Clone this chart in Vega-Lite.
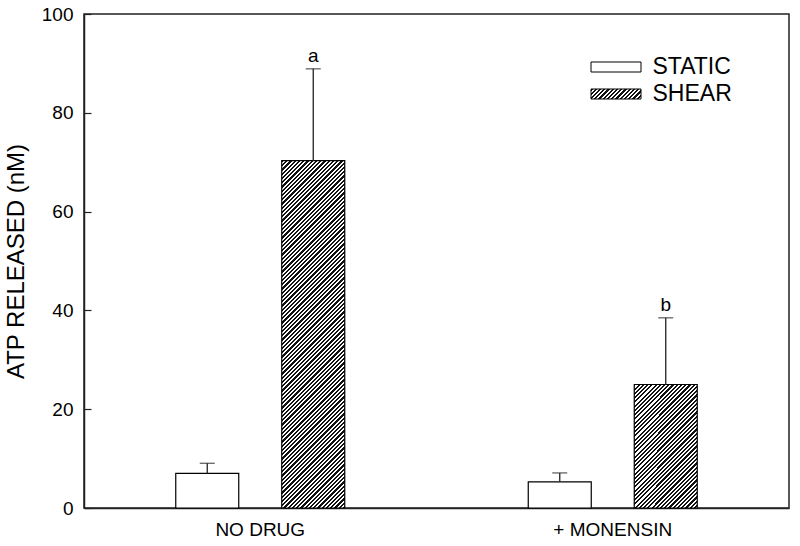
{
"$schema": "https://vega.github.io/schema/vega-lite/v6.json",
"width": 705, "height": 494,
"autosize": {"type": "none"},
"padding": {"left": 84, "top": 14, "right": 11, "bottom": 38},
"background": "white",
"config": {"view": {"stroke": "#222", "strokeWidth": 1.5}, "font": "Liberation Sans"},
"params": [{"name": "hatch", "value": [
{"offset":0,"color":"#111"},{"offset":0.005,"color":"#111"},{"offset":0.005,"color":"#fff"},{"offset":0.01,"color":"#fff"},
{"offset":0.01,"color":"#111"},{"offset":0.015,"color":"#111"},{"offset":0.015,"color":"#fff"},{"offset":0.02,"color":"#fff"},
{"offset":0.02,"color":"#111"},{"offset":0.025,"color":"#111"},{"offset":0.025,"color":"#fff"},{"offset":0.03,"color":"#fff"},
{"offset":0.03,"color":"#111"},{"offset":0.035,"color":"#111"},{"offset":0.035,"color":"#fff"},{"offset":0.04,"color":"#fff"},
{"offset":0.04,"color":"#111"},{"offset":0.045,"color":"#111"},{"offset":0.045,"color":"#fff"},{"offset":0.05,"color":"#fff"},
{"offset":0.05,"color":"#111"},{"offset":0.055,"color":"#111"},{"offset":0.055,"color":"#fff"},{"offset":0.06,"color":"#fff"},
{"offset":0.06,"color":"#111"},{"offset":0.065,"color":"#111"},{"offset":0.065,"color":"#fff"},{"offset":0.07,"color":"#fff"},
{"offset":0.07,"color":"#111"},{"offset":0.075,"color":"#111"},{"offset":0.075,"color":"#fff"},{"offset":0.08,"color":"#fff"},
{"offset":0.08,"color":"#111"},{"offset":0.085,"color":"#111"},{"offset":0.085,"color":"#fff"},{"offset":0.09,"color":"#fff"},
{"offset":0.09,"color":"#111"},{"offset":0.095,"color":"#111"},{"offset":0.095,"color":"#fff"},{"offset":0.1,"color":"#fff"},
{"offset":0.1,"color":"#111"},{"offset":0.105,"color":"#111"},{"offset":0.105,"color":"#fff"},{"offset":0.11,"color":"#fff"},
{"offset":0.11,"color":"#111"},{"offset":0.115,"color":"#111"},{"offset":0.115,"color":"#fff"},{"offset":0.12,"color":"#fff"},
{"offset":0.12,"color":"#111"},{"offset":0.125,"color":"#111"},{"offset":0.125,"color":"#fff"},{"offset":0.13,"color":"#fff"},
{"offset":0.13,"color":"#111"},{"offset":0.135,"color":"#111"},{"offset":0.135,"color":"#fff"},{"offset":0.14,"color":"#fff"},
{"offset":0.14,"color":"#111"},{"offset":0.145,"color":"#111"},{"offset":0.145,"color":"#fff"},{"offset":0.15,"color":"#fff"},
{"offset":0.15,"color":"#111"},{"offset":0.155,"color":"#111"},{"offset":0.155,"color":"#fff"},{"offset":0.16,"color":"#fff"},
{"offset":0.16,"color":"#111"},{"offset":0.165,"color":"#111"},{"offset":0.165,"color":"#fff"},{"offset":0.17,"color":"#fff"},
{"offset":0.17,"color":"#111"},{"offset":0.175,"color":"#111"},{"offset":0.175,"color":"#fff"},{"offset":0.18,"color":"#fff"},
{"offset":0.18,"color":"#111"},{"offset":0.185,"color":"#111"},{"offset":0.185,"color":"#fff"},{"offset":0.19,"color":"#fff"},
{"offset":0.19,"color":"#111"},{"offset":0.195,"color":"#111"},{"offset":0.195,"color":"#fff"},{"offset":0.2,"color":"#fff"},
{"offset":0.2,"color":"#111"},{"offset":0.205,"color":"#111"},{"offset":0.205,"color":"#fff"},{"offset":0.21,"color":"#fff"},
{"offset":0.21,"color":"#111"},{"offset":0.215,"color":"#111"},{"offset":0.215,"color":"#fff"},{"offset":0.22,"color":"#fff"},
{"offset":0.22,"color":"#111"},{"offset":0.225,"color":"#111"},{"offset":0.225,"color":"#fff"},{"offset":0.23,"color":"#fff"},
{"offset":0.23,"color":"#111"},{"offset":0.235,"color":"#111"},{"offset":0.235,"color":"#fff"},{"offset":0.24,"color":"#fff"},
{"offset":0.24,"color":"#111"},{"offset":0.245,"color":"#111"},{"offset":0.245,"color":"#fff"},{"offset":0.25,"color":"#fff"},
{"offset":0.25,"color":"#111"},{"offset":0.255,"color":"#111"},{"offset":0.255,"color":"#fff"},{"offset":0.26,"color":"#fff"},
{"offset":0.26,"color":"#111"},{"offset":0.265,"color":"#111"},{"offset":0.265,"color":"#fff"},{"offset":0.27,"color":"#fff"},
{"offset":0.27,"color":"#111"},{"offset":0.275,"color":"#111"},{"offset":0.275,"color":"#fff"},{"offset":0.28,"color":"#fff"},
{"offset":0.28,"color":"#111"},{"offset":0.285,"color":"#111"},{"offset":0.285,"color":"#fff"},{"offset":0.29,"color":"#fff"},
{"offset":0.29,"color":"#111"},{"offset":0.295,"color":"#111"},{"offset":0.295,"color":"#fff"},{"offset":0.3,"color":"#fff"},
{"offset":0.3,"color":"#111"},{"offset":0.305,"color":"#111"},{"offset":0.305,"color":"#fff"},{"offset":0.31,"color":"#fff"},
{"offset":0.31,"color":"#111"},{"offset":0.315,"color":"#111"},{"offset":0.315,"color":"#fff"},{"offset":0.32,"color":"#fff"},
{"offset":0.32,"color":"#111"},{"offset":0.325,"color":"#111"},{"offset":0.325,"color":"#fff"},{"offset":0.33,"color":"#fff"},
{"offset":0.33,"color":"#111"},{"offset":0.335,"color":"#111"},{"offset":0.335,"color":"#fff"},{"offset":0.34,"color":"#fff"},
{"offset":0.34,"color":"#111"},{"offset":0.345,"color":"#111"},{"offset":0.345,"color":"#fff"},{"offset":0.35,"color":"#fff"},
{"offset":0.35,"color":"#111"},{"offset":0.355,"color":"#111"},{"offset":0.355,"color":"#fff"},{"offset":0.36,"color":"#fff"},
{"offset":0.36,"color":"#111"},{"offset":0.365,"color":"#111"},{"offset":0.365,"color":"#fff"},{"offset":0.37,"color":"#fff"},
{"offset":0.37,"color":"#111"},{"offset":0.375,"color":"#111"},{"offset":0.375,"color":"#fff"},{"offset":0.38,"color":"#fff"},
{"offset":0.38,"color":"#111"},{"offset":0.385,"color":"#111"},{"offset":0.385,"color":"#fff"},{"offset":0.39,"color":"#fff"},
{"offset":0.39,"color":"#111"},{"offset":0.395,"color":"#111"},{"offset":0.395,"color":"#fff"},{"offset":0.4,"color":"#fff"},
{"offset":0.4,"color":"#111"},{"offset":0.405,"color":"#111"},{"offset":0.405,"color":"#fff"},{"offset":0.41,"color":"#fff"},
{"offset":0.41,"color":"#111"},{"offset":0.415,"color":"#111"},{"offset":0.415,"color":"#fff"},{"offset":0.42,"color":"#fff"},
{"offset":0.42,"color":"#111"},{"offset":0.425,"color":"#111"},{"offset":0.425,"color":"#fff"},{"offset":0.43,"color":"#fff"},
{"offset":0.43,"color":"#111"},{"offset":0.435,"color":"#111"},{"offset":0.435,"color":"#fff"},{"offset":0.44,"color":"#fff"},
{"offset":0.44,"color":"#111"},{"offset":0.445,"color":"#111"},{"offset":0.445,"color":"#fff"},{"offset":0.45,"color":"#fff"},
{"offset":0.45,"color":"#111"},{"offset":0.455,"color":"#111"},{"offset":0.455,"color":"#fff"},{"offset":0.46,"color":"#fff"},
{"offset":0.46,"color":"#111"},{"offset":0.465,"color":"#111"},{"offset":0.465,"color":"#fff"},{"offset":0.47,"color":"#fff"},
{"offset":0.47,"color":"#111"},{"offset":0.475,"color":"#111"},{"offset":0.475,"color":"#fff"},{"offset":0.48,"color":"#fff"},
{"offset":0.48,"color":"#111"},{"offset":0.485,"color":"#111"},{"offset":0.485,"color":"#fff"},{"offset":0.49,"color":"#fff"},
{"offset":0.49,"color":"#111"},{"offset":0.495,"color":"#111"},{"offset":0.495,"color":"#fff"},{"offset":0.5,"color":"#fff"},
{"offset":0.5,"color":"#111"},{"offset":0.505,"color":"#111"},{"offset":0.505,"color":"#fff"},{"offset":0.51,"color":"#fff"},
{"offset":0.51,"color":"#111"},{"offset":0.515,"color":"#111"},{"offset":0.515,"color":"#fff"},{"offset":0.52,"color":"#fff"},
{"offset":0.52,"color":"#111"},{"offset":0.525,"color":"#111"},{"offset":0.525,"color":"#fff"},{"offset":0.53,"color":"#fff"},
{"offset":0.53,"color":"#111"},{"offset":0.535,"color":"#111"},{"offset":0.535,"color":"#fff"},{"offset":0.54,"color":"#fff"},
{"offset":0.54,"color":"#111"},{"offset":0.545,"color":"#111"},{"offset":0.545,"color":"#fff"},{"offset":0.55,"color":"#fff"},
{"offset":0.55,"color":"#111"},{"offset":0.555,"color":"#111"},{"offset":0.555,"color":"#fff"},{"offset":0.56,"color":"#fff"},
{"offset":0.56,"color":"#111"},{"offset":0.565,"color":"#111"},{"offset":0.565,"color":"#fff"},{"offset":0.57,"color":"#fff"},
{"offset":0.57,"color":"#111"},{"offset":0.575,"color":"#111"},{"offset":0.575,"color":"#fff"},{"offset":0.58,"color":"#fff"},
{"offset":0.58,"color":"#111"},{"offset":0.585,"color":"#111"},{"offset":0.585,"color":"#fff"},{"offset":0.59,"color":"#fff"},
{"offset":0.59,"color":"#111"},{"offset":0.595,"color":"#111"},{"offset":0.595,"color":"#fff"},{"offset":0.6,"color":"#fff"},
{"offset":0.6,"color":"#111"},{"offset":0.605,"color":"#111"},{"offset":0.605,"color":"#fff"},{"offset":0.61,"color":"#fff"},
{"offset":0.61,"color":"#111"},{"offset":0.615,"color":"#111"},{"offset":0.615,"color":"#fff"},{"offset":0.62,"color":"#fff"},
{"offset":0.62,"color":"#111"},{"offset":0.625,"color":"#111"},{"offset":0.625,"color":"#fff"},{"offset":0.63,"color":"#fff"},
{"offset":0.63,"color":"#111"},{"offset":0.635,"color":"#111"},{"offset":0.635,"color":"#fff"},{"offset":0.64,"color":"#fff"},
{"offset":0.64,"color":"#111"},{"offset":0.645,"color":"#111"},{"offset":0.645,"color":"#fff"},{"offset":0.65,"color":"#fff"},
{"offset":0.65,"color":"#111"},{"offset":0.655,"color":"#111"},{"offset":0.655,"color":"#fff"},{"offset":0.66,"color":"#fff"},
{"offset":0.66,"color":"#111"},{"offset":0.665,"color":"#111"},{"offset":0.665,"color":"#fff"},{"offset":0.67,"color":"#fff"},
{"offset":0.67,"color":"#111"},{"offset":0.675,"color":"#111"},{"offset":0.675,"color":"#fff"},{"offset":0.68,"color":"#fff"},
{"offset":0.68,"color":"#111"},{"offset":0.685,"color":"#111"},{"offset":0.685,"color":"#fff"},{"offset":0.69,"color":"#fff"},
{"offset":0.69,"color":"#111"},{"offset":0.695,"color":"#111"},{"offset":0.695,"color":"#fff"},{"offset":0.7,"color":"#fff"},
{"offset":0.7,"color":"#111"},{"offset":0.705,"color":"#111"},{"offset":0.705,"color":"#fff"},{"offset":0.71,"color":"#fff"},
{"offset":0.71,"color":"#111"},{"offset":0.715,"color":"#111"},{"offset":0.715,"color":"#fff"},{"offset":0.72,"color":"#fff"},
{"offset":0.72,"color":"#111"},{"offset":0.725,"color":"#111"},{"offset":0.725,"color":"#fff"},{"offset":0.73,"color":"#fff"},
{"offset":0.73,"color":"#111"},{"offset":0.735,"color":"#111"},{"offset":0.735,"color":"#fff"},{"offset":0.74,"color":"#fff"},
{"offset":0.74,"color":"#111"},{"offset":0.745,"color":"#111"},{"offset":0.745,"color":"#fff"},{"offset":0.75,"color":"#fff"},
{"offset":0.75,"color":"#111"},{"offset":0.755,"color":"#111"},{"offset":0.755,"color":"#fff"},{"offset":0.76,"color":"#fff"},
{"offset":0.76,"color":"#111"},{"offset":0.765,"color":"#111"},{"offset":0.765,"color":"#fff"},{"offset":0.77,"color":"#fff"},
{"offset":0.77,"color":"#111"},{"offset":0.775,"color":"#111"},{"offset":0.775,"color":"#fff"},{"offset":0.78,"color":"#fff"},
{"offset":0.78,"color":"#111"},{"offset":0.785,"color":"#111"},{"offset":0.785,"color":"#fff"},{"offset":0.79,"color":"#fff"},
{"offset":0.79,"color":"#111"},{"offset":0.795,"color":"#111"},{"offset":0.795,"color":"#fff"},{"offset":0.8,"color":"#fff"},
{"offset":0.8,"color":"#111"},{"offset":0.805,"color":"#111"},{"offset":0.805,"color":"#fff"},{"offset":0.81,"color":"#fff"},
{"offset":0.81,"color":"#111"},{"offset":0.815,"color":"#111"},{"offset":0.815,"color":"#fff"},{"offset":0.82,"color":"#fff"},
{"offset":0.82,"color":"#111"},{"offset":0.825,"color":"#111"},{"offset":0.825,"color":"#fff"},{"offset":0.83,"color":"#fff"},
{"offset":0.83,"color":"#111"},{"offset":0.835,"color":"#111"},{"offset":0.835,"color":"#fff"},{"offset":0.84,"color":"#fff"},
{"offset":0.84,"color":"#111"},{"offset":0.845,"color":"#111"},{"offset":0.845,"color":"#fff"},{"offset":0.85,"color":"#fff"},
{"offset":0.85,"color":"#111"},{"offset":0.855,"color":"#111"},{"offset":0.855,"color":"#fff"},{"offset":0.86,"color":"#fff"},
{"offset":0.86,"color":"#111"},{"offset":0.865,"color":"#111"},{"offset":0.865,"color":"#fff"},{"offset":0.87,"color":"#fff"},
{"offset":0.87,"color":"#111"},{"offset":0.875,"color":"#111"},{"offset":0.875,"color":"#fff"},{"offset":0.88,"color":"#fff"},
{"offset":0.88,"color":"#111"},{"offset":0.885,"color":"#111"},{"offset":0.885,"color":"#fff"},{"offset":0.89,"color":"#fff"},
{"offset":0.89,"color":"#111"},{"offset":0.895,"color":"#111"},{"offset":0.895,"color":"#fff"},{"offset":0.9,"color":"#fff"},
{"offset":0.9,"color":"#111"},{"offset":0.905,"color":"#111"},{"offset":0.905,"color":"#fff"},{"offset":0.91,"color":"#fff"},
{"offset":0.91,"color":"#111"},{"offset":0.915,"color":"#111"},{"offset":0.915,"color":"#fff"},{"offset":0.92,"color":"#fff"},
{"offset":0.92,"color":"#111"},{"offset":0.925,"color":"#111"},{"offset":0.925,"color":"#fff"},{"offset":0.93,"color":"#fff"},
{"offset":0.93,"color":"#111"},{"offset":0.935,"color":"#111"},{"offset":0.935,"color":"#fff"},{"offset":0.94,"color":"#fff"},
{"offset":0.94,"color":"#111"},{"offset":0.945,"color":"#111"},{"offset":0.945,"color":"#fff"},{"offset":0.95,"color":"#fff"},
{"offset":0.95,"color":"#111"},{"offset":0.955,"color":"#111"},{"offset":0.955,"color":"#fff"},{"offset":0.96,"color":"#fff"},
{"offset":0.96,"color":"#111"},{"offset":0.965,"color":"#111"},{"offset":0.965,"color":"#fff"},{"offset":0.97,"color":"#fff"},
{"offset":0.97,"color":"#111"},{"offset":0.975,"color":"#111"},{"offset":0.975,"color":"#fff"},{"offset":0.98,"color":"#fff"}
]}],
"data": {"values": [
{"drug": "NO DRUG", "cond": "STATIC", "value": 7.0, "upper": 9.05, "label": ""},
{"drug": "NO DRUG", "cond": "SHEAR", "value": 70.3, "upper": 88.9, "label": "a"},
{"drug": "+ MONENSIN", "cond": "STATIC", "value": 5.3, "upper": 7.1, "label": ""},
{"drug": "+ MONENSIN", "cond": "SHEAR", "value": 25.0, "upper": 38.5, "label": "b"}
]},
"encoding": {
"x": {"field": "drug", "type": "nominal", "scale": {"domain": ["NO DRUG", "+ MONENSIN"], "paddingInner": 0, "paddingOuter": 0},
  "axis": {"title": null, "ticks": false, "labelAngle": 0, "labelFontSize": 19, "labelPadding": 12, "labelColor": "#000", "domainColor": "#222", "domainWidth": 1.5}},
"xOffset": {"field": "cond", "type": "nominal", "scale": {"domain": ["STATIC", "SHEAR"], "paddingInner": 0.4057, "paddingOuter": 0.8656}}
},
"layer": [
{"transform": [{"filter": "datum.cond === 'STATIC'"}],
 "mark": {"type": "bar", "stroke": "#000", "strokeWidth": 1.2},
 "encoding": {
  "y": {"field": "value", "type": "quantitative", "scale": {"domain": [0, 100]},
   "axis": {"title": "ATP RELEASED (nM)", "values": [0, 20, 40, 60, 80, 100], "grid": false, "tickSize": -7, "labelPadding": 18, "labelFontSize": 19, "labelColor": "#000", "titleFontSize": 24, "titleFontWeight": "normal", "titleColor": "#000", "titlePadding": 13, "domainColor": "#222", "domainWidth": 1.5, "tickColor": "#222", "tickWidth": 1.2}},
  "fill": {"field": "cond", "type": "nominal", "scale": {"domain": ["STATIC", "SHEAR"], "range": ["#fff", {"expr": "{gradient: 'linear', x1: 0, y1: 0, x2: 8.173, y2: 1.6346, stops: hatch}"}]},
   "legend": {"orient": "none", "legendX": 519, "legendY": 40, "title": null, "symbolType": "M-2,-0.4H2V0.4H-2Z", "symbolSize": 625, "symbolStrokeWidth": 1, "symbolStrokeColor": "#000", "labelFontSize": 23, "labelOffset": 23.5, "labelColor": "#000", "rowPadding": 2}}
 }},
{"transform": [{"filter": "datum.cond === 'SHEAR' && datum.drug === 'NO DRUG'"}],
 "mark": {"type": "bar", "stroke": "#000", "strokeWidth": 1.2, "fill": {"expr": "{gradient: 'linear', x1: 0, y1: 0, x2: 0.21491, y2: 1.18475, stops: hatch}"}},
 "encoding": {"y": {"field": "value", "type": "quantitative"}}},
{"transform": [{"filter": "datum.cond === 'SHEAR' && datum.drug === '+ MONENSIN'"}],
 "mark": {"type": "bar", "stroke": "#000", "strokeWidth": 1.2, "fill": {"expr": "{gradient: 'linear', x1: 0, y1: 0, x2: 1.39298, y2: 2.7307, stops: hatch}"}},
 "encoding": {"y": {"field": "value", "type": "quantitative"}}},
{"mark": {"type": "rule", "color": "#222", "strokeWidth": 1.3},
 "encoding": {"y": {"field": "value", "type": "quantitative"}, "y2": {"field": "upper"}}},
{"mark": {"type": "tick", "orient": "horizontal", "size": 15, "thickness": 1.3, "color": "#222"},
 "encoding": {"y": {"field": "upper", "type": "quantitative"}}},
{"transform": [{"filter": "datum.label !== ''"}],
 "mark": {"type": "text", "fontSize": 19, "dy": -7, "baseline": "alphabetic", "align": "center", "color": "#000"},
 "encoding": {"y": {"field": "upper", "type": "quantitative"}, "text": {"field": "label"}}}
]
}
